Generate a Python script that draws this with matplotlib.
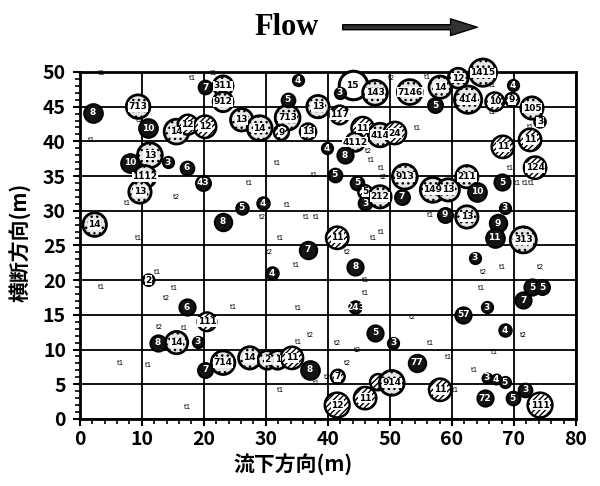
import matplotlib
matplotlib.use('Agg')
import matplotlib.pyplot as plt
from matplotlib.patches import FancyArrowPatch

plt.rcParams['font.family'] = ['Noto Sans CJK JP', 'DejaVu Sans']
plt.rcParams['hatch.linewidth'] = 1.0

# ---- circles: position (m), diameter (m), label, kind (k=dark, d=dotted, h=hatched, w=white)
cx = [2.1, 9.4, 11.0, 15.6, 17.4, 20.2, 20.2, 23.1, 23.1, 26.1, 29.0, 33.5, 33.5, 35.2, 32.5, 36.8,
      38.4, 41.9, 44.0, 41.9, 47.6, 53.2, 57.3, 58.1, 61.0, 65.0, 62.6, 66.9, 69.8, 69.7, 72.9, 74.2,
      72.6, 68.2, 73.4, 68.1, 62.4, 64.0, 56.9, 59.4, 52.4, 45.6, 48.4, 50.8, 44.4, 42.7, 39.8, 41.1,
      44.7, 46.0, 46.0, 48.4, 51.9, 8.1, 11.3, 14.2, 10.5, 9.7, 17.3, 19.8, 26.1, 29.5, 2.4, 23.1,
      58.9, 62.4, 68.5, 67.4, 66.9, 71.5, 41.5, 36.8, 31.0, 44.4, 44.4, 63.7, 72.9, 74.5, 71.5, 61.8,
      65.6, 68.5, 11.1, 17.3, 20.5, 12.6, 15.6, 19.0, 20.2, 23.1, 27.4, 30.2, 31.9, 34.2, 37.1, 41.6,
      47.6, 50.5, 54.4, 48.1, 50.3, 46.0, 41.5, 58.1, 65.6, 67.1, 68.5, 65.3, 69.8, 71.8, 74.2]
cy = [44.1, 45.0, 41.9, 41.4, 42.4, 42.1, 47.8, 48.0, 45.7, 43.1, 41.9, 43.4, 46.0, 48.8, 41.3, 41.4,
      45.0, 43.8, 48.1, 47.0, 47.0, 47.1, 45.2, 47.8, 49.1, 49.9, 46.0, 45.7, 48.1, 46.0, 44.8, 42.8,
      40.2, 39.2, 36.2, 34.1, 34.9, 32.7, 33.0, 33.0, 34.9, 41.9, 40.9, 41.2, 39.9, 38.0, 39.0, 35.2,
      34.0, 32.7, 31.1, 32.0, 32.0, 36.9, 38.0, 37.0, 34.9, 32.7, 36.2, 34.0, 30.4, 31.1, 28.0, 28.4,
      29.4, 29.1, 30.4, 28.2, 26.1, 25.8, 26.1, 24.4, 21.0, 21.9, 16.1, 23.2, 19.0, 19.0, 17.1, 15.0,
      16.1, 12.8, 20.0, 16.1, 14.0, 11.0, 11.0, 11.1, 7.1, 8.1, 8.8, 8.5, 8.5, 8.8, 7.1, 6.1,
      12.4, 11.0, 8.1, 5.3, 5.2, 3.0, 2.0, 4.2, 5.9, 5.7, 5.3, 3.0, 3.0, 4.2, 2.0]
cd = [3.0, 3.8, 3.0, 4.0, 3.2, 3.6, 2.2, 3.2, 3.2, 3.6, 4.0, 4.0, 2.2, 1.8, 2.4, 2.6,
      3.6, 3.0, 4.6, 1.8, 4.0, 4.0, 2.4, 3.6, 3.2, 4.4, 4.4, 3.0, 1.8, 2.2, 3.6, 1.8,
      3.6, 3.6, 3.6, 2.6, 3.6, 3.0, 4.0, 3.6, 4.0, 3.6, 3.8, 3.6, 3.0, 2.6, 1.8, 2.2,
      2.2, 2.2, 2.2, 3.6, 2.4, 3.0, 4.0, 1.8, 3.6, 3.6, 2.2, 2.4, 2.0, 2.0, 3.8, 2.8,
      2.4, 3.6, 1.8, 2.8, 3.0, 4.2, 3.6, 2.8, 2.0, 2.6, 2.0, 1.8, 2.6, 2.4, 2.6, 2.6,
      1.8, 2.0, 1.8, 2.6, 3.0, 2.6, 3.6, 1.8, 2.4, 3.8, 3.6, 3.0, 3.0, 3.6, 3.0, 2.2,
      2.6, 1.8, 2.8, 2.6, 4.0, 3.6, 4.0, 3.6, 1.6, 1.6, 1.8, 2.6, 2.2, 2.2, 4.0]
clab = ['8', '713', '10', '14', '12', '12', '7', '311', '912', '13', '14', '713', '5', '4', '9', '13',
        '13', '117', '15', '3', '143', '7146', '5', '14', '12', '1415', '414', '10', '4', '9', '105', '3',
        '11', '11', '124', '5', '211', '10', '149', '13', '913', '11', '414', '24', '4112', '8', '4', '5',
        '5', '5', '3', '212', '7', '10', '13', '3', '1112', '13', '6', '43', '5', '4', '14', '8',
        '9', '13', '3', '9', '11', '313', '11', '7', '4', '8', '243', '3', '5', '5', '7', '57',
        '3', '4', '2', '6', '111', '8', '14', '3', '7', '714', '14', '2', '1', '11', '8', '7',
        '5', '3', '77', '', '914', '11', '12', '11', '3', '4', '5', '72', '5', '3', '111']
ckind = ['k', 'd', 'k', 'd', 'h', 'h', 'k', 'd', 'd', 'd', 'd', 'd', 'k', 'k', 'h', 'h',
         'd', 'h', 'w', 'k', 'd', 'd', 'k', 'd', 'd', 'd', 'd', 'h', 'k', 'h', 'd', 'h',
         'h', 'h', 'h', 'k', 'd', 'k', 'd', 'd', 'd', 'h', 'd', 'h', 'd', 'k', 'k', 'k',
         'k', 'h', 'k', 'd', 'k', 'k', 'd', 'k', 'd', 'd', 'k', 'k', 'k', 'k', 'd', 'k',
         'k', 'd', 'k', 'k', 'k', 'd', 'h', 'k', 'k', 'k', 'k', 'k', 'k', 'k', 'k', 'k',
         'k', 'k', 'h', 'k', 'h', 'k', 'd', 'k', 'k', 'd', 'd', 'd', 'd', 'h', 'k', 'h',
         'k', 'k', 'k', 'h', 'd', 'h', 'h', 'h', 'k', 'k', 'k', 'k', 'k', 'k', 'h']

# ---- small marks
t1_x = [3.5, 21.5, 18.2, 9.7, 1.9, 27.4, 7.7, 54.5, 47.1, 48.7, 31.9, 37.9, 66.6, 72.6, 69.4,
        70.6, 71.8, 72.9, 56.5, 9.4, 12.6, 3.5, 15.3, 24.7, 33.5, 36.6, 38.2, 32.3, 47.3, 48.7, 35.0,
        46.0, 46.0, 35.2, 68.2, 64.8, 16.9, 6.5, 11.0, 17.3, 35.2, 56.5, 38.2, 32.3, 66.9, 59.4, 63.7,
        60.5, 66.5, 56.0]
t1_y = [49.9, 49.9, 49.1, 43.1, 40.2, 34.0, 31.1, 41.9, 37.3, 36.2, 36.9, 35.2, 44.2, 42.1, 36.2,
        34.0, 34.0, 34.0, 29.4, 26.1, 21.2, 19.0, 18.9, 16.1, 30.8, 29.1, 29.1, 26.1, 26.1, 27.0, 22.2,
        20.0, 18.2, 16.0, 21.9, 18.9, 13.1, 8.1, 7.8, 1.7, 11.1, 11.0, 5.2, 4.2, 9.7, 8.9, 7.1,
        4.2, 48.1, 49.3]
t2_x = [15.6, 48.9, 50.3, 46.6, 29.4, 30.6, 43.1, 65.0, 74.2, 14.0, 12.9, 53.7, 71.5, 37.1, 41.6,
        44.7, 40.0, 43.1]
t2_y = [32.0, 34.9, 49.1, 38.6, 29.1, 24.1, 24.1, 21.2, 21.9, 17.4, 13.3, 14.7, 12.1, 12.1, 11.0,
        10.0, 6.1, 8.1]

x_ticks = [0, 10, 20, 30, 40, 50, 60, 70, 80]
y_ticks = [0, 5, 10, 15, 20, 25, 30, 35, 40, 45, 50]

fig = plt.figure(figsize=(6, 4.86), dpi=100)
ax = fig.add_axes([0.133, 0.138, 0.827, 0.714])
ax.set_xlim(0, 80)
ax.set_ylim(0, 50)
ax.set_xticks(x_ticks)
ax.set_yticks(y_ticks)
ax.set_xticks(range(0, 81, 2), minor=True)
ax.set_yticks(range(0, 51, 1), minor=True)
ax.grid(True, which='major', color='black', lw=1.3)
ax.set_axisbelow(True)
for s in ax.spines.values():
    s.set_linewidth(2)
ax.tick_params(which='major', direction='out', length=5, width=1.5, labelsize=14, pad=5)
ax.tick_params(axis='x', which='major', pad=3)
ax.tick_params(which='minor', direction='out', length=3.5, width=1.2)
for lab in ax.get_xticklabels() + ax.get_yticklabels():
    lab.set_fontweight('bold')

fig.canvas.draw()
px_per_m = ax.transData.transform((1, 0))[0] - ax.transData.transform((0, 0))[0]

styles = {
    'k': dict(fc='#141414', ec='black', lw=1.5, hatch=None, tc='white'),
    'd': dict(fc='#e6e6e6', ec='black', lw=2.0, hatch='...', tc='black'),
    'h': dict(fc='white', ec='black', lw=1.8, hatch='//////', tc='black'),
    'w': dict(fc='white', ec='black', lw=2.2, hatch=None, tc='black'),
}

for i in range(len(cx)):
    st = styles[ckind[i]]
    size_pt = cd[i] * px_per_m * 72 / fig.dpi
    ax.scatter([cx[i]], [cy[i]], s=size_pt ** 2, facecolor=st['fc'], edgecolor=st['ec'],
               linewidth=st['lw'], hatch=st['hatch'], zorder=3 + i * 0.001, clip_on=False)
    if clab[i]:
        bbox = None
        if ckind[i] in ('h', 'd'):
            bbox = dict(boxstyle='square,pad=0.05', fc='white', ec='none')
        ax.text(cx[i], cy[i], clab[i], ha='center', va='center', fontsize=6.5,
                fontweight='bold', color=st['tc'], family='DejaVu Sans', zorder=4 + i * 0.001,
                bbox=bbox)

for x, y in zip(t1_x, t1_y):
    ax.text(x, y, 't1', fontsize=5, ha='center', va='center', family='DejaVu Sans', zorder=5)
for x, y in zip(t2_x, t2_y):
    ax.text(x, y, 't2', fontsize=5, ha='center', va='center', family='DejaVu Sans', zorder=5)

ax.set_xlabel('流下方向(m)', fontsize=15, fontweight='bold')
ax.xaxis.set_label_coords(0.43, -0.1)
ax.set_ylabel('横断方向(m)', fontsize=15, fontweight='bold')
ax.yaxis.set_label_coords(-0.097, 0.51)

fig.text(0.477, 0.944, 'Flow', family='Liberation Serif', fontweight='bold', fontsize=22,
         ha='center', va='center')
arrow = FancyArrowPatch((340 / 600, 0.944), (480 / 600, 0.944), transform=fig.transFigure,
                        arrowstyle='simple,head_length=1.6,head_width=1.0,tail_width=0.3',
                        mutation_scale=12, fc='#333333', ec='black', lw=1)
fig.add_artist(arrow)

fig.savefig('out.png', dpi=100)
